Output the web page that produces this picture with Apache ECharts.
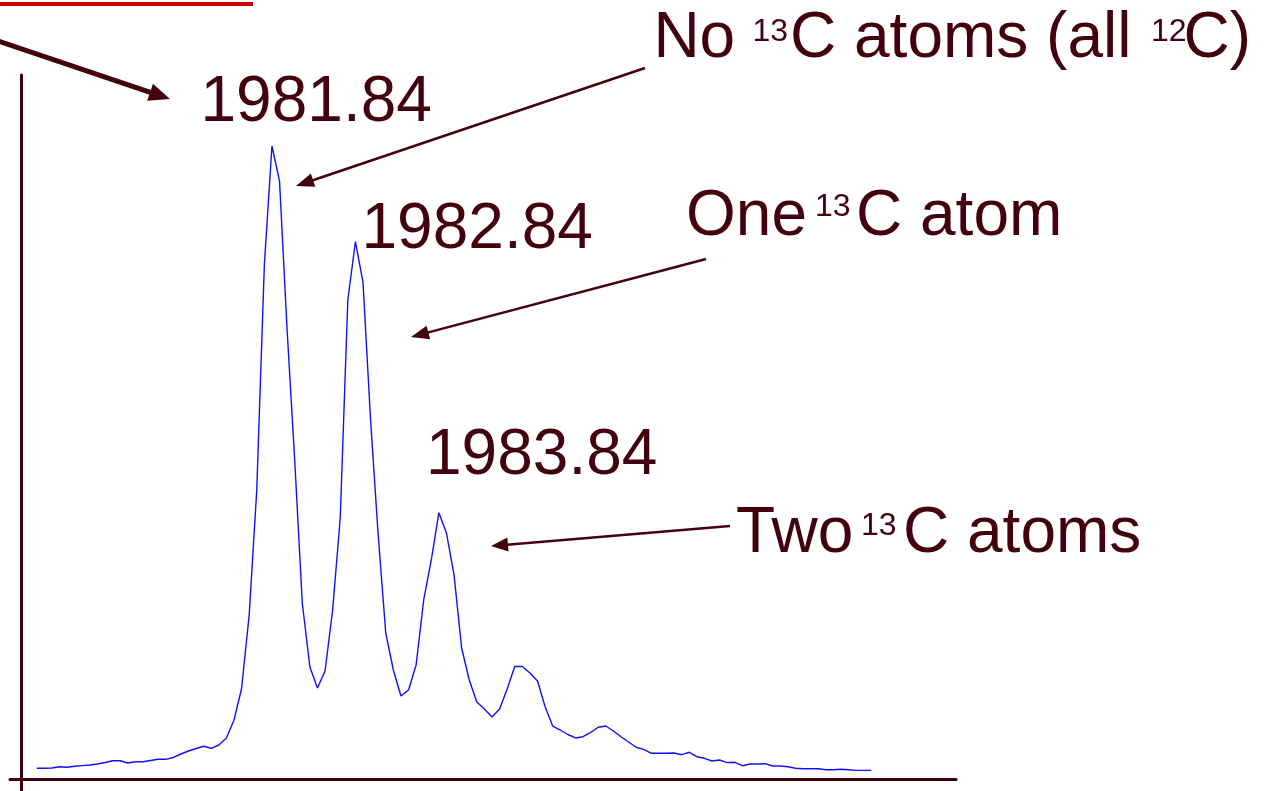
<!DOCTYPE html>
<html>
<head>
<meta charset="utf-8">
<script src="https://cdn.jsdelivr.net/npm/echarts@6/dist/echarts.min.js"></script>
<style>
html,body{margin:0;padding:0;background:#fff;}
#chart{width:1264px;height:791px;}
</style>
</head>
<body>
<div id="chart"></div>
<script>
// Relative intensity (%) of each sample of the mass spectrum (peak at 1981.84 = 100)
var intensity = [
  1.69, 1.71, 1.74, 1.94, 1.85, 2.01, 2.12, 2.21, 2.37, 2.61,
  2.88, 2.89, 2.53, 2.73, 2.73, 2.92, 3.11, 3.11, 3.40, 3.95,
  4.42, 4.82, 5.17, 4.85, 5.37, 6.48, 9.32, 14.30, 25.91, 45.66,
  81.20, 100.00, 94.47, 70.93, 50.39, 27.80, 17.69, 14.38, 17.06, 26.70,
  41.23, 75.67, 84.88, 78.47, 56.71, 38.55, 23.06, 17.22, 13.11, 14.06,
  18.01, 28.28, 34.60, 42.07, 38.86, 32.23, 20.70, 15.64, 12.16, 11.06,
  9.79, 11.06, 14.22, 17.77, 17.77, 16.75, 15.48, 11.42, 8.37, 7.74,
  7.03, 6.48, 6.68, 7.35, 8.17, 8.37, 7.58, 6.68, 5.85, 5.01,
  4.69, 4.06, 4.06, 4.06, 4.11, 3.84, 4.22, 3.52, 3.27, 2.84,
  3.00, 2.58, 2.64, 2.10, 2.37, 2.37, 2.42, 2.05, 2.05, 1.94,
  1.69, 1.63, 1.63, 1.63, 1.47, 1.47, 1.53, 1.47, 1.37, 1.37,
  1.37
];
var peakLabels = ['1981.84', '1982.84', '1983.84'];
var notes = [
  ['No ', '13', 'C atoms (all ', '12', 'C)'],
  ['One ', '13', 'C atom'],
  ['Two ', '13', 'C atoms']
];

var INK = '#43000f';
var AXIS = '#3a000c';
var FONT = '"Liberation Sans", Arial, sans-serif';
var BIG = 64, SUP = 32;

function txt(s, x, baseline, size) {
  return {
    type: 'text', x: x, y: baseline - 0.30 * size, z: 10,
    style: { text: s, fill: INK, font: size + 'px ' + FONT, align: 'left', verticalAlign: 'middle' }
  };
}
function arrow(x1, y1, x2, y2, w, hl, hw) {
  var dx = x2 - x1, dy = y2 - y1, L = Math.sqrt(dx * dx + dy * dy);
  var ux = dx / L, uy = dy / L, px = -uy, py = ux;
  var bx = x2 - ux * hl, by = y2 - uy * hl;
  return [
    { type: 'line', z: 10, shape: { x1: x1, y1: y1, x2: bx + ux * 1, y2: by + uy * 1 },
      style: { stroke: INK, lineWidth: w } },
    { type: 'polygon', z: 10, shape: { points: [[x2, y2], [bx + px * hw, by + py * hw], [bx - px * hw, by - py * hw]] },
      style: { fill: INK } }
  ];
}

var graphics = [];
// red rule at top left
graphics.push({ type: 'rect', shape: { x: 0, y: 2, width: 253, height: 4 }, style: { fill: '#cc0000' } });
// y-axis extension below the x-axis
graphics.push({ type: 'line', shape: { x1: 21.5, y1: 778, x2: 21.5, y2: 791 }, style: { stroke: AXIS, lineWidth: 3 } });
// peak labels
graphics.push(txt(peakLabels[0], 200.5, 122.7, BIG));
graphics.push(txt(peakLabels[1], 361.5, 250, BIG));
graphics.push(txt(peakLabels[2], 426, 476, BIG));
// annotations
graphics.push(txt(notes[0][0], 653.4, 58.3, BIG));
graphics.push(txt(notes[0][1], 752.5, 41.7, SUP));
graphics.push(txt(notes[0][2], 790, 58.3, BIG));
graphics.push(txt(notes[0][3], 1151, 41.7, SUP));
graphics.push(txt(notes[0][4], 1183.6, 58.3, BIG));
graphics.push(txt(notes[1][0], 686, 237, BIG));
graphics.push(txt(notes[1][1], 815, 217, SUP));
graphics.push(txt(notes[1][2], 856, 237, BIG));
graphics.push(txt(notes[2][0], 736, 553.3, BIG));
graphics.push(txt(notes[2][1], 861, 535.5, SUP));
graphics.push(txt(notes[2][2], 903, 553.3, BIG));
// arrows
graphics = graphics.concat(arrow(-2, 41, 170, 99, 5, 21, 9));
graphics = graphics.concat(arrow(645, 68, 296, 186, 2.5, 18, 7));
graphics = graphics.concat(arrow(706, 259, 411, 337, 2.5, 18, 7));
graphics = graphics.concat(arrow(730, 526, 491, 546, 2.5, 17, 7));

var chart = echarts.init(document.getElementById('chart'), null, { renderer: 'canvas' });
chart.setOption({
  animation: false,
  backgroundColor: '#ffffff',
  grid: { left: 10, top: 75, width: 946, height: 704, outerBoundsMode: 'none' },
  xAxis: {
    type: 'value', min: -3.52, max: 121.15,
    axisLine: { show: true, onZero: false, lineStyle: { color: AXIS, width: 3 } },
    axisTick: { show: false }, axisLabel: { show: false }, splitLine: { show: false }
  },
  yAxis: {
    type: 'value', min: 0, max: 111.22, offset: -11,
    axisLine: { show: true, onZero: false, lineStyle: { color: AXIS, width: 3 } },
    axisTick: { show: false }, axisLabel: { show: false }, splitLine: { show: false }
  },
  series: [{
    type: 'line',
    data: intensity.map(function (v, i) { return [i, v]; }),
    showSymbol: false,
    lineStyle: { color: '#1010ff', width: 1.4 },
    silent: true
  }],
  graphic: graphics
});
</script>
</body>
</html>
